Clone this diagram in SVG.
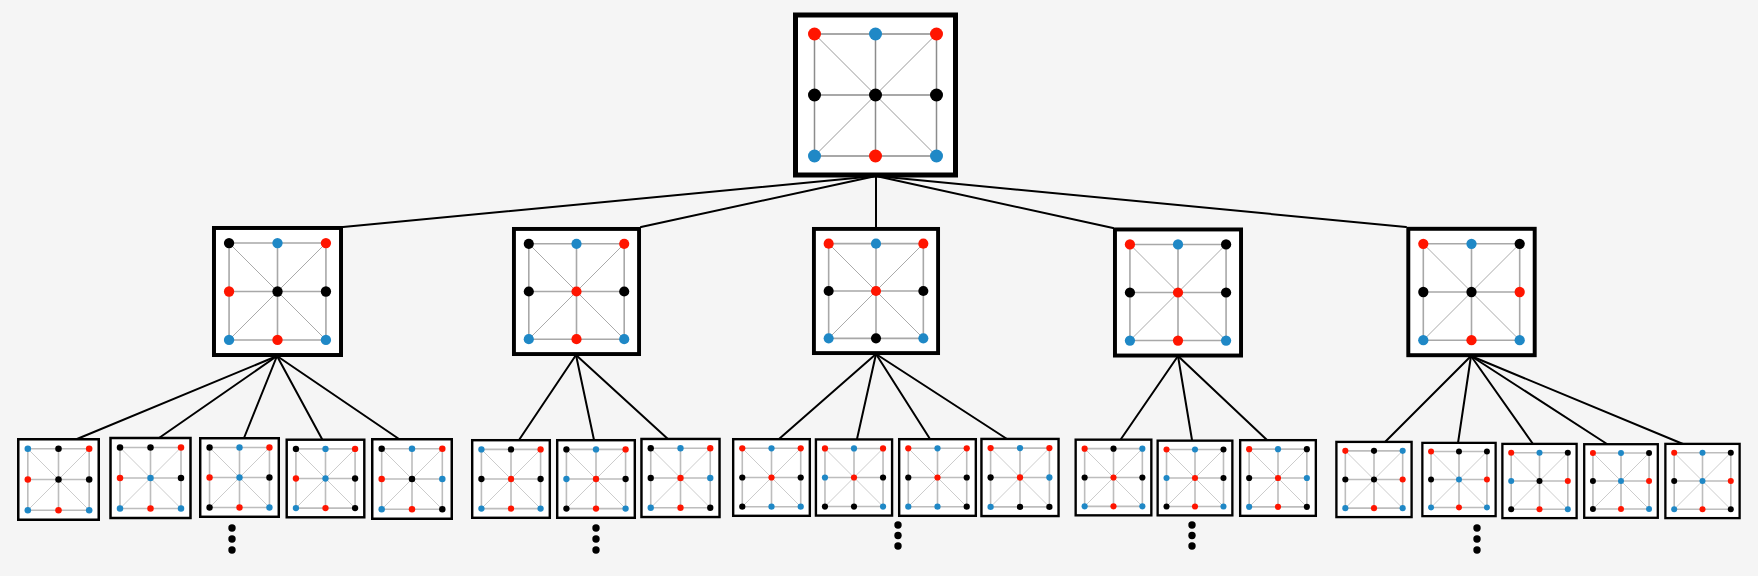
<svg xmlns="http://www.w3.org/2000/svg" xmlns:xlink="http://www.w3.org/1999/xlink" width="1758" height="576" viewBox="0 0 1758 576">
<style>
.bg{fill:#f5f5f5}
.frame{fill:#fff;stroke:#000;stroke-width:5}
.o{fill:none;vector-effect:non-scaling-stroke}
.d{fill:none;vector-effect:non-scaling-stroke}
#gT .o{stroke:#8c8c8c;stroke-width:1.5}
#gT .d{stroke:#9a9a9a;stroke-width:1}
#gM .o{stroke:#a8a8a8;stroke-width:1.6}
#gM .d{stroke:#aaaaaa;stroke-width:1}
#gB .o{stroke:#bdbdbd;stroke-width:1.6}
#gB .d{stroke:#cccccc;stroke-width:1}
.r{fill:#ff1500}
.b{fill:#1f88c6}
.k{fill:#000}
.conn line{stroke:#000;stroke-width:2;stroke-linecap:round}
.ell{fill:#000}
</style>
<defs>
<g id="gT">
<rect class="frame" x="-80" y="-80" width="160" height="160"/>
<path class="o" d="M-61 -61H61V61H-61Z M-61 0H61 M0 -61V61"/>
<path class="d" d="M-61 -61L61 61 M61 -61L-61 61"/>
</g>
<g id="gM">
<rect class="frame" x="-80" y="-80" width="160" height="160"/>
<path class="o" d="M-61 -61H61V61H-61Z M-61 0H61 M0 -61V61"/>
<path class="d" d="M-61 -61L61 61 M61 -61L-61 61"/>
</g>
<g id="gB">
<rect class="frame" x="-80" y="-80" width="160" height="160"/>
<path class="o" d="M-61 -61H61V61H-61Z M-61 0H61 M0 -61V61"/>
<path class="d" d="M-61 -61L61 61 M61 -61L-61 61"/>
</g>
</defs>
<rect class="bg" x="0" y="0" width="1758" height="576"/>
<g class="conn" id="connectors">
<line x1="876" y1="176" x2="343" y2="227"/>
<line x1="876" y1="176" x2="641" y2="227"/>
<line x1="876" y1="176" x2="876" y2="227"/>
<line x1="876" y1="176" x2="1113" y2="228"/>
<line x1="876" y1="176" x2="1406" y2="227"/>
<line x1="277" y1="356" x2="77" y2="439"/>
<line x1="277" y1="356" x2="159" y2="438"/>
<line x1="277" y1="356" x2="244" y2="438"/>
<line x1="277" y1="356" x2="322" y2="439"/>
<line x1="277" y1="356" x2="399" y2="439"/>
<line x1="576" y1="355" x2="519" y2="440"/>
<line x1="576" y1="355" x2="594" y2="440"/>
<line x1="576" y1="355" x2="669" y2="440"/>
<line x1="876" y1="354" x2="779" y2="439"/>
<line x1="876" y1="354" x2="857" y2="439"/>
<line x1="876" y1="354" x2="930" y2="439"/>
<line x1="876" y1="354" x2="1007" y2="439"/>
<line x1="1178" y1="356" x2="1121" y2="439"/>
<line x1="1178" y1="356" x2="1192" y2="440"/>
<line x1="1178" y1="356" x2="1267" y2="440"/>
<line x1="1471" y1="356" x2="1385" y2="442"/>
<line x1="1471" y1="356" x2="1458" y2="443"/>
<line x1="1471" y1="356" x2="1533" y2="444"/>
<line x1="1471" y1="356" x2="1607" y2="444"/>
<line x1="1471" y1="356" x2="1683" y2="444"/>
</g>
<g id="root" transform="translate(875.5 95)">
<use xlink:href="#gT" href="#gT"/>
<circle class="r" cx="-61" cy="-61" r="6.5"/><circle class="b" cx="0" cy="-61" r="6.5"/><circle class="r" cx="61" cy="-61" r="6.5"/>
<circle class="k" cx="-61" cy="0" r="6.5"/><circle class="k" cx="0" cy="0" r="6.5"/><circle class="k" cx="61" cy="0" r="6.5"/>
<circle class="b" cx="-61" cy="61" r="6.5"/><circle class="r" cx="0" cy="61" r="6.5"/><circle class="b" cx="61" cy="61" r="6.5"/>
</g>
<g id="m1" transform="translate(277.5 291.5) scale(0.794)">
<use xlink:href="#gM" href="#gM"/>
<circle class="k" cx="-61" cy="-61" r="6.5"/><circle class="b" cx="0" cy="-61" r="6.5"/><circle class="r" cx="61" cy="-61" r="6.5"/>
<circle class="r" cx="-61" cy="0" r="6.5"/><circle class="k" cx="0" cy="0" r="6.5"/><circle class="k" cx="61" cy="0" r="6.5"/>
<circle class="b" cx="-61" cy="61" r="6.5"/><circle class="r" cx="0" cy="61" r="6.5"/><circle class="b" cx="61" cy="61" r="6.5"/>
</g>
<g id="m2" transform="translate(576.5 291.5) scale(0.782)">
<use xlink:href="#gM" href="#gM"/>
<circle class="k" cx="-61" cy="-61" r="6.5"/><circle class="b" cx="0" cy="-61" r="6.5"/><circle class="r" cx="61" cy="-61" r="6.5"/>
<circle class="k" cx="-61" cy="0" r="6.5"/><circle class="r" cx="0" cy="0" r="6.5"/><circle class="k" cx="61" cy="0" r="6.5"/>
<circle class="b" cx="-61" cy="61" r="6.5"/><circle class="r" cx="0" cy="61" r="6.5"/><circle class="b" cx="61" cy="61" r="6.5"/>
</g>
<g id="m3" transform="translate(876 291) scale(0.776)">
<use xlink:href="#gM" href="#gM"/>
<circle class="r" cx="-61" cy="-61" r="6.5"/><circle class="b" cx="0" cy="-61" r="6.5"/><circle class="r" cx="61" cy="-61" r="6.5"/>
<circle class="k" cx="-61" cy="0" r="6.5"/><circle class="r" cx="0" cy="0" r="6.5"/><circle class="k" cx="61" cy="0" r="6.5"/>
<circle class="b" cx="-61" cy="61" r="6.5"/><circle class="k" cx="0" cy="61" r="6.5"/><circle class="b" cx="61" cy="61" r="6.5"/>
</g>
<g id="m4" transform="translate(1178 292.5) scale(0.788)">
<use xlink:href="#gM" href="#gM"/>
<circle class="r" cx="-61" cy="-61" r="6.5"/><circle class="b" cx="0" cy="-61" r="6.5"/><circle class="k" cx="61" cy="-61" r="6.5"/>
<circle class="k" cx="-61" cy="0" r="6.5"/><circle class="r" cx="0" cy="0" r="6.5"/><circle class="k" cx="61" cy="0" r="6.5"/>
<circle class="b" cx="-61" cy="61" r="6.5"/><circle class="r" cx="0" cy="61" r="6.5"/><circle class="b" cx="61" cy="61" r="6.5"/>
</g>
<g id="m5" transform="translate(1471.5 292) scale(0.79)">
<use xlink:href="#gM" href="#gM"/>
<circle class="r" cx="-61" cy="-61" r="6.5"/><circle class="b" cx="0" cy="-61" r="6.5"/><circle class="k" cx="61" cy="-61" r="6.5"/>
<circle class="k" cx="-61" cy="0" r="6.5"/><circle class="k" cx="0" cy="0" r="6.5"/><circle class="r" cx="61" cy="0" r="6.5"/>
<circle class="b" cx="-61" cy="61" r="6.5"/><circle class="r" cx="0" cy="61" r="6.5"/><circle class="b" cx="61" cy="61" r="6.5"/>
</g>
<g id="bA" transform="translate(58.5 479.5) scale(0.503)">
<use xlink:href="#gB" href="#gB"/>
<circle class="b" cx="-61" cy="-61" r="6.5"/><circle class="k" cx="0" cy="-61" r="6.5"/><circle class="r" cx="61" cy="-61" r="6.5"/>
<circle class="r" cx="-61" cy="0" r="6.5"/><circle class="k" cx="0" cy="0" r="6.5"/><circle class="k" cx="61" cy="0" r="6.5"/>
<circle class="b" cx="-61" cy="61" r="6.5"/><circle class="r" cx="0" cy="61" r="6.5"/><circle class="b" cx="61" cy="61" r="6.5"/>
</g>
<g id="bB" transform="translate(150.5 478) scale(0.5)">
<use xlink:href="#gB" href="#gB"/>
<circle class="k" cx="-61" cy="-61" r="6.5"/><circle class="k" cx="0" cy="-61" r="6.5"/><circle class="r" cx="61" cy="-61" r="6.5"/>
<circle class="r" cx="-61" cy="0" r="6.5"/><circle class="b" cx="0" cy="0" r="6.5"/><circle class="k" cx="61" cy="0" r="6.5"/>
<circle class="b" cx="-61" cy="61" r="6.5"/><circle class="r" cx="0" cy="61" r="6.5"/><circle class="b" cx="61" cy="61" r="6.5"/>
</g>
<g id="bC" transform="translate(239.5 477.5) scale(0.491)">
<use xlink:href="#gB" href="#gB"/>
<circle class="k" cx="-61" cy="-61" r="6.5"/><circle class="b" cx="0" cy="-61" r="6.5"/><circle class="r" cx="61" cy="-61" r="6.5"/>
<circle class="r" cx="-61" cy="0" r="6.5"/><circle class="b" cx="0" cy="0" r="6.5"/><circle class="k" cx="61" cy="0" r="6.5"/>
<circle class="k" cx="-61" cy="61" r="6.5"/><circle class="r" cx="0" cy="61" r="6.5"/><circle class="b" cx="61" cy="61" r="6.5"/>
</g>
<g id="bD" transform="translate(325.5 478.5) scale(0.485)">
<use xlink:href="#gB" href="#gB"/>
<circle class="k" cx="-61" cy="-61" r="6.5"/><circle class="b" cx="0" cy="-61" r="6.5"/><circle class="r" cx="61" cy="-61" r="6.5"/>
<circle class="r" cx="-61" cy="0" r="6.5"/><circle class="b" cx="0" cy="0" r="6.5"/><circle class="k" cx="61" cy="0" r="6.5"/>
<circle class="b" cx="-61" cy="61" r="6.5"/><circle class="r" cx="0" cy="61" r="6.5"/><circle class="k" cx="61" cy="61" r="6.5"/>
</g>
<g id="bE" transform="translate(412 479) scale(0.497)">
<use xlink:href="#gB" href="#gB"/>
<circle class="k" cx="-61" cy="-61" r="6.5"/><circle class="b" cx="0" cy="-61" r="6.5"/><circle class="r" cx="61" cy="-61" r="6.5"/>
<circle class="r" cx="-61" cy="0" r="6.5"/><circle class="k" cx="0" cy="0" r="6.5"/><circle class="b" cx="61" cy="0" r="6.5"/>
<circle class="b" cx="-61" cy="61" r="6.5"/><circle class="r" cx="0" cy="61" r="6.5"/><circle class="k" cx="61" cy="61" r="6.5"/>
</g>
<g id="bF" transform="translate(511 479) scale(0.485)">
<use xlink:href="#gB" href="#gB"/>
<circle class="b" cx="-61" cy="-61" r="6.5"/><circle class="k" cx="0" cy="-61" r="6.5"/><circle class="r" cx="61" cy="-61" r="6.5"/>
<circle class="k" cx="-61" cy="0" r="6.5"/><circle class="r" cx="0" cy="0" r="6.5"/><circle class="k" cx="61" cy="0" r="6.5"/>
<circle class="b" cx="-61" cy="61" r="6.5"/><circle class="r" cx="0" cy="61" r="6.5"/><circle class="b" cx="61" cy="61" r="6.5"/>
</g>
<g id="bG" transform="translate(596 479) scale(0.485)">
<use xlink:href="#gB" href="#gB"/>
<circle class="k" cx="-61" cy="-61" r="6.5"/><circle class="b" cx="0" cy="-61" r="6.5"/><circle class="r" cx="61" cy="-61" r="6.5"/>
<circle class="b" cx="-61" cy="0" r="6.5"/><circle class="r" cx="0" cy="0" r="6.5"/><circle class="k" cx="61" cy="0" r="6.5"/>
<circle class="k" cx="-61" cy="61" r="6.5"/><circle class="r" cx="0" cy="61" r="6.5"/><circle class="b" cx="61" cy="61" r="6.5"/>
</g>
<g id="bH" transform="translate(680.5 478) scale(0.488)">
<use xlink:href="#gB" href="#gB"/>
<circle class="k" cx="-61" cy="-61" r="6.5"/><circle class="b" cx="0" cy="-61" r="6.5"/><circle class="r" cx="61" cy="-61" r="6.5"/>
<circle class="k" cx="-61" cy="0" r="6.5"/><circle class="r" cx="0" cy="0" r="6.5"/><circle class="b" cx="61" cy="0" r="6.5"/>
<circle class="b" cx="-61" cy="61" r="6.5"/><circle class="r" cx="0" cy="61" r="6.5"/><circle class="k" cx="61" cy="61" r="6.5"/>
</g>
<g id="bI" transform="translate(771.5 477.5) scale(0.479)">
<use xlink:href="#gB" href="#gB"/>
<circle class="r" cx="-61" cy="-61" r="6.5"/><circle class="b" cx="0" cy="-61" r="6.5"/><circle class="r" cx="61" cy="-61" r="6.5"/>
<circle class="k" cx="-61" cy="0" r="6.5"/><circle class="r" cx="0" cy="0" r="6.5"/><circle class="k" cx="61" cy="0" r="6.5"/>
<circle class="k" cx="-61" cy="61" r="6.5"/><circle class="b" cx="0" cy="61" r="6.5"/><circle class="b" cx="61" cy="61" r="6.5"/>
</g>
<g id="bJ" transform="translate(854 477.5) scale(0.476)">
<use xlink:href="#gB" href="#gB"/>
<circle class="r" cx="-61" cy="-61" r="6.5"/><circle class="b" cx="0" cy="-61" r="6.5"/><circle class="r" cx="61" cy="-61" r="6.5"/>
<circle class="b" cx="-61" cy="0" r="6.5"/><circle class="r" cx="0" cy="0" r="6.5"/><circle class="k" cx="61" cy="0" r="6.5"/>
<circle class="k" cx="-61" cy="61" r="6.5"/><circle class="k" cx="0" cy="61" r="6.5"/><circle class="b" cx="61" cy="61" r="6.5"/>
</g>
<g id="bK" transform="translate(937.5 477.5) scale(0.479)">
<use xlink:href="#gB" href="#gB"/>
<circle class="r" cx="-61" cy="-61" r="6.5"/><circle class="b" cx="0" cy="-61" r="6.5"/><circle class="r" cx="61" cy="-61" r="6.5"/>
<circle class="k" cx="-61" cy="0" r="6.5"/><circle class="r" cx="0" cy="0" r="6.5"/><circle class="k" cx="61" cy="0" r="6.5"/>
<circle class="b" cx="-61" cy="61" r="6.5"/><circle class="b" cx="0" cy="61" r="6.5"/><circle class="k" cx="61" cy="61" r="6.5"/>
</g>
<g id="bL" transform="translate(1020 477.5) scale(0.482)">
<use xlink:href="#gB" href="#gB"/>
<circle class="r" cx="-61" cy="-61" r="6.5"/><circle class="b" cx="0" cy="-61" r="6.5"/><circle class="r" cx="61" cy="-61" r="6.5"/>
<circle class="k" cx="-61" cy="0" r="6.5"/><circle class="r" cx="0" cy="0" r="6.5"/><circle class="b" cx="61" cy="0" r="6.5"/>
<circle class="b" cx="-61" cy="61" r="6.5"/><circle class="k" cx="0" cy="61" r="6.5"/><circle class="k" cx="61" cy="61" r="6.5"/>
</g>
<g id="bM" transform="translate(1113.5 477.5) scale(0.473)">
<use xlink:href="#gB" href="#gB"/>
<circle class="r" cx="-61" cy="-61" r="6.5"/><circle class="k" cx="0" cy="-61" r="6.5"/><circle class="b" cx="61" cy="-61" r="6.5"/>
<circle class="k" cx="-61" cy="0" r="6.5"/><circle class="r" cx="0" cy="0" r="6.5"/><circle class="k" cx="61" cy="0" r="6.5"/>
<circle class="b" cx="-61" cy="61" r="6.5"/><circle class="r" cx="0" cy="61" r="6.5"/><circle class="b" cx="61" cy="61" r="6.5"/>
</g>
<g id="bN" transform="translate(1195 478) scale(0.467)">
<use xlink:href="#gB" href="#gB"/>
<circle class="r" cx="-61" cy="-61" r="6.5"/><circle class="b" cx="0" cy="-61" r="6.5"/><circle class="k" cx="61" cy="-61" r="6.5"/>
<circle class="b" cx="-61" cy="0" r="6.5"/><circle class="r" cx="0" cy="0" r="6.5"/><circle class="k" cx="61" cy="0" r="6.5"/>
<circle class="k" cx="-61" cy="61" r="6.5"/><circle class="r" cx="0" cy="61" r="6.5"/><circle class="b" cx="61" cy="61" r="6.5"/>
</g>
<g id="bO" transform="translate(1278 478) scale(0.473)">
<use xlink:href="#gB" href="#gB"/>
<circle class="r" cx="-61" cy="-61" r="6.5"/><circle class="b" cx="0" cy="-61" r="6.5"/><circle class="k" cx="61" cy="-61" r="6.5"/>
<circle class="k" cx="-61" cy="0" r="6.5"/><circle class="r" cx="0" cy="0" r="6.5"/><circle class="b" cx="61" cy="0" r="6.5"/>
<circle class="b" cx="-61" cy="61" r="6.5"/><circle class="r" cx="0" cy="61" r="6.5"/><circle class="k" cx="61" cy="61" r="6.5"/>
</g>
<g id="bP" transform="translate(1374 479.5) scale(0.47)">
<use xlink:href="#gB" href="#gB"/>
<circle class="r" cx="-61" cy="-61" r="6.5"/><circle class="k" cx="0" cy="-61" r="6.5"/><circle class="b" cx="61" cy="-61" r="6.5"/>
<circle class="k" cx="-61" cy="0" r="6.5"/><circle class="k" cx="0" cy="0" r="6.5"/><circle class="r" cx="61" cy="0" r="6.5"/>
<circle class="b" cx="-61" cy="61" r="6.5"/><circle class="r" cx="0" cy="61" r="6.5"/><circle class="b" cx="61" cy="61" r="6.5"/>
</g>
<g id="bQ" transform="translate(1459 479.5) scale(0.458)">
<use xlink:href="#gB" href="#gB"/>
<circle class="r" cx="-61" cy="-61" r="6.5"/><circle class="k" cx="0" cy="-61" r="6.5"/><circle class="k" cx="61" cy="-61" r="6.5"/>
<circle class="k" cx="-61" cy="0" r="6.5"/><circle class="b" cx="0" cy="0" r="6.5"/><circle class="r" cx="61" cy="0" r="6.5"/>
<circle class="b" cx="-61" cy="61" r="6.5"/><circle class="r" cx="0" cy="61" r="6.5"/><circle class="b" cx="61" cy="61" r="6.5"/>
</g>
<g id="bR" transform="translate(1539.5 481) scale(0.464)">
<use xlink:href="#gB" href="#gB"/>
<circle class="r" cx="-61" cy="-61" r="6.5"/><circle class="b" cx="0" cy="-61" r="6.5"/><circle class="k" cx="61" cy="-61" r="6.5"/>
<circle class="b" cx="-61" cy="0" r="6.5"/><circle class="k" cx="0" cy="0" r="6.5"/><circle class="r" cx="61" cy="0" r="6.5"/>
<circle class="k" cx="-61" cy="61" r="6.5"/><circle class="r" cx="0" cy="61" r="6.5"/><circle class="b" cx="61" cy="61" r="6.5"/>
</g>
<g id="bS" transform="translate(1621 481) scale(0.46)">
<use xlink:href="#gB" href="#gB"/>
<circle class="r" cx="-61" cy="-61" r="6.5"/><circle class="b" cx="0" cy="-61" r="6.5"/><circle class="k" cx="61" cy="-61" r="6.5"/>
<circle class="k" cx="-61" cy="0" r="6.5"/><circle class="b" cx="0" cy="0" r="6.5"/><circle class="r" cx="61" cy="0" r="6.5"/>
<circle class="k" cx="-61" cy="61" r="6.5"/><circle class="r" cx="0" cy="61" r="6.5"/><circle class="b" cx="61" cy="61" r="6.5"/>
</g>
<g id="bT" transform="translate(1702.5 481) scale(0.464)">
<use xlink:href="#gB" href="#gB"/>
<circle class="r" cx="-61" cy="-61" r="6.5"/><circle class="b" cx="0" cy="-61" r="6.5"/><circle class="k" cx="61" cy="-61" r="6.5"/>
<circle class="k" cx="-61" cy="0" r="6.5"/><circle class="b" cx="0" cy="0" r="6.5"/><circle class="r" cx="61" cy="0" r="6.5"/>
<circle class="b" cx="-61" cy="61" r="6.5"/><circle class="r" cx="0" cy="61" r="6.5"/><circle class="k" cx="61" cy="61" r="6.5"/>
</g>
<g id="ellipses" class="ell">
<circle cx="232" cy="528" r="3.7"/><circle cx="232" cy="539" r="3.7"/><circle cx="232" cy="550" r="3.7"/>
<circle cx="596" cy="528" r="3.7"/><circle cx="596" cy="539" r="3.7"/><circle cx="596" cy="550" r="3.7"/>
<circle cx="898" cy="525" r="3.7"/><circle cx="898" cy="535.5" r="3.7"/><circle cx="898" cy="546" r="3.7"/>
<circle cx="1192" cy="525" r="3.7"/><circle cx="1192" cy="535.5" r="3.7"/><circle cx="1192" cy="546" r="3.7"/>
<circle cx="1477" cy="528" r="3.7"/><circle cx="1477" cy="539" r="3.7"/><circle cx="1477" cy="550" r="3.7"/>
</g>
</svg>
